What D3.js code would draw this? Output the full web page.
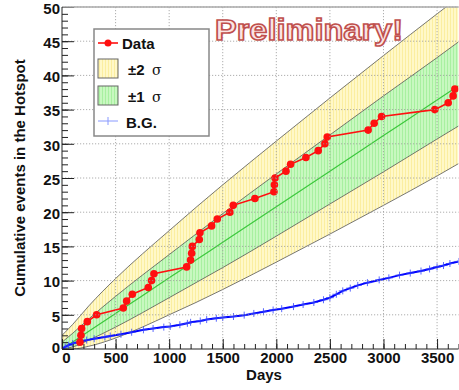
<!DOCTYPE html>
<html><head><meta charset="utf-8">
<script src="https://cdn.jsdelivr.net/npm/d3@7/dist/d3.min.js"></script>
<style>body{margin:0;background:#fff;overflow:hidden}</style></head>
<body><svg id="c" width="459" height="390"></svg>
<script>
// ---- data ----
const bandDays = [0, 100, 250, 500, 750, 1000, 1250, 1500, 2000, 2500, 3000, 3500, 3700];
const meanVals = [0, 1.04, 2.6, 5.2, 7.8, 10.4, 13.0, 15.6, 20.8, 26.0, 31.2, 36.4, 38.5];
const up2Vals  = [2.0, 3.6, 6.3, 10.3, 13.9, 17.3, 20.7, 24.0, 30.4, 36.7, 42.9, 49.0, 51.4];
const up1Vals  = [1.0, 2.3, 4.4, 7.7, 10.8, 13.8, 16.8, 19.8, 25.6, 31.3, 37.0, 42.6, 44.9];
const lo1Vals  = [0, 0.3, 1.3, 3.2, 5.3, 7.5, 9.7, 11.9, 16.5, 21.2, 25.9, 30.7, 32.6];
const lo2Vals  = [0, 0, 0.4, 1.6, 3.2, 5.0, 6.8, 8.7, 12.7, 16.8, 21.0, 25.3, 27.1];

const dataDays = [168, 177, 183, 236, 323, 572, 603, 656, 805, 836, 858, 1163, 1200, 1210, 1216, 1281, 1287, 1396, 1449, 1567, 1598, 1800, 1978, 1982, 1988, 2090, 2133, 2276, 2391, 2453, 2475, 2857, 2913, 2982, 3479, 3604, 3650, 3666];
const dataCounts = [1, 2, 3, 4, 5, 6, 7, 8, 9, 10, 11, 12, 13, 14, 15, 16, 17, 18, 19, 20, 21, 22, 23, 24, 25, 26, 27, 28, 29, 30, 31, 32, 33, 34, 35, 36, 37, 38];

const bgDays = [0, 30, 60, 100, 150, 230, 300, 400, 450, 550, 650, 760, 850, 950, 1010, 1100, 1170, 1200, 1290, 1350, 1440, 1500, 1600, 1700, 1790, 1880, 1970, 2050, 2160, 2250, 2350, 2440, 2500, 2560, 2620, 2690, 2760, 2850, 2960, 3050, 3150, 3250, 3350, 3430, 3500, 3560, 3620, 3700];
const bgVals = [0, 0.3, 0.55, 0.8, 1.0, 1.3, 1.5, 1.75, 1.9, 2.15, 2.45, 2.8, 3.0, 3.2, 3.3, 3.55, 3.75, 3.9, 4.1, 4.3, 4.5, 4.6, 4.75, 4.95, 5.2, 5.45, 5.7, 5.9, 6.2, 6.5, 6.8, 7.2, 7.5, 8.0, 8.5, 8.9, 9.3, 9.7, 10.1, 10.4, 10.8, 11.1, 11.4, 11.7, 12.0, 12.2, 12.5, 12.8];

const xTickVals = [0, 500, 1000, 1500, 2000, 2500, 3000, 3500];
const yTickVals = [0, 5, 10, 15, 20, 25, 30, 35, 40, 45, 50];

// ---- layout ----
const L = 62, R = 458.5, T = 7, B = 349;
const svg = d3.select('#c');
const x = d3.scaleLinear().domain([0, 3700]).range([L, R]);
const y = d3.scaleLinear().domain([0, 50]).range([B, T]);
const FONT = '"Liberation Sans", Arial, sans-serif';
const FS = 15;

const defs = svg.append('defs');
function stripes(id, base, line) {
  const p = defs.append('pattern').attr('id', id).attr('patternUnits', 'userSpaceOnUse')
    .attr('width', 3).attr('height', 3);
  p.append('rect').attr('width', 3).attr('height', 3).attr('fill', base);
  p.append('rect').attr('width', 1).attr('height', 3).attr('fill', line);
}
stripes('yel', '#fff8c8', '#fbeea0');
stripes('grn', '#c8f8c0', '#a8f0a0');
defs.append('clipPath').attr('id', 'clip').append('rect')
  .attr('x', L).attr('y', T).attr('width', R - L).attr('height', B - T);

const plot = svg.append('g').attr('clip-path', 'url(#clip)');
const band = bandDays.map((d, i) => ({d, m: meanVals[i], u2: up2Vals[i], u1: up1Vals[i], l1: lo1Vals[i], l2: lo2Vals[i]}));
const curve = d3.curveMonotoneX;
plot.append('path').datum(band).attr('fill', 'url(#yel)')
  .attr('d', d3.area().curve(curve).x(p => x(p.d)).y0(p => y(p.l2)).y1(p => y(p.u2)));
plot.append('path').datum(band).attr('fill', 'url(#grn)')
  .attr('d', d3.area().curve(curve).x(p => x(p.d)).y0(p => y(p.l1)).y1(p => y(p.u1)));
['u2', 'u1', 'l1', 'l2'].forEach(k => {
  plot.append('path').datum(band).attr('fill', 'none').attr('stroke', '#555').attr('stroke-width', 0.8)
    .attr('d', d3.line().curve(curve).x(p => x(p.d)).y(p => y(p[k])));
});
plot.append('path').datum(band).attr('fill', 'none').attr('stroke', '#3cc83c').attr('stroke-width', 1.2)
  .attr('d', d3.line().curve(curve).x(p => x(p.d)).y(p => y(p.m)));

// grid
const grid = svg.append('g');
xTickVals.slice(1).forEach(v => grid.append('line').attr('x1', x(v)).attr('x2', x(v)).attr('y1', T).attr('y2', B)
  .attr('stroke', '#999').attr('stroke-width', 0.8).attr('stroke-dasharray', '1.2,1.8'));
yTickVals.slice(1).forEach(v => grid.append('line').attr('x1', L).attr('x2', R).attr('y1', y(v)).attr('y2', y(v))
  .attr('stroke', '#999').attr('stroke-width', 0.8).attr('stroke-dasharray', '1.2,1.8'));

// background
const bg = bgDays.map((d, i) => ({d, v: bgVals[i]}));
plot.append('path').datum(bg).attr('fill', 'none').attr('stroke', '#0000ff').attr('stroke-width', 2)
  .attr('d', d3.line().x(p => x(p.d)).y(p => y(p.v)));
const bgm = plot.append('g').attr('stroke', '#3344ff').attr('stroke-width', 1).attr('opacity', 0.8);
bg.slice(1).forEach(p => {
  bgm.append('line').attr('x1', x(p.d) - 4).attr('x2', x(p.d) + 4).attr('y1', y(p.v)).attr('y2', y(p.v));
  bgm.append('line').attr('x1', x(p.d)).attr('x2', x(p.d)).attr('y1', y(p.v) - 3.5).attr('y2', y(p.v) + 3.5);
});

// data
const dat = dataDays.map((d, i) => ({d, v: dataCounts[i]}));
plot.append('path').datum(dat).attr('fill', 'none').attr('stroke', '#ff1010').attr('stroke-width', 1.6)
  .attr('d', d3.line().x(p => x(p.d)).y(p => y(p.v)));
plot.append('g').selectAll('circle').data(dat).join('circle')
  .attr('cx', p => x(p.d)).attr('cy', p => y(p.v)).attr('r', 3.8).attr('fill', '#ff1010');

// axes
function styleAxis(g) {
  g.select('.domain').remove();
  g.selectAll('line').attr('stroke', '#222');
  g.selectAll('text').attr('font-family', FONT).attr('font-weight', 'bold').attr('font-size', FS).attr('fill', '#111');
}
svg.append('g').attr('transform', `translate(0,${B})`)
  .call(d3.axisBottom(x).tickValues(d3.range(0, 3701, 100)).tickSize(-5).tickFormat(''))
  .call(styleAxis);
const xa = svg.append('g').attr('transform', `translate(0,${B})`)
  .call(d3.axisBottom(x).tickValues(xTickVals).tickSize(-10).tickPadding(3).tickFormat(d3.format('d')))
  .call(styleAxis);
xa.selectAll('.tick text').filter(d => d === 0).attr('dx', 4);
svg.append('g').attr('transform', `translate(${L},0)`)
  .call(d3.axisLeft(y).tickValues(d3.range(0, 51, 1)).tickSize(-6).tickFormat(''))
  .call(styleAxis);
const ya = svg.append('g').attr('transform', `translate(${L},0)`)
  .call(d3.axisLeft(y).tickValues(yTickVals).tickSize(-12).tickPadding(2).tickFormat(d3.format('d')))
  .call(styleAxis);
ya.selectAll('.tick text').attr('dy', '0.42em');
ya.selectAll('.tick text').filter(d => d === 0).attr('dy', '0.2em');

// frame
svg.append('line').attr('x1', L).attr('x2', R).attr('y1', T).attr('y2', T).attr('stroke', '#aaa').attr('stroke-width', 1.5);
svg.append('line').attr('x1', L).attr('x2', L).attr('y1', T).attr('y2', B).attr('stroke', '#222').attr('stroke-width', 1);
svg.append('line').attr('x1', L).attr('x2', R).attr('y1', B).attr('y2', B).attr('stroke', '#222').attr('stroke-width', 1);

// axis titles
svg.append('text').attr('x', 264).attr('y', 380).attr('text-anchor', 'middle')
  .attr('font-family', FONT).attr('font-weight', 'bold').attr('font-size', FS).attr('fill', '#111').text('Days');
svg.append('text').attr('transform', 'translate(25,178) rotate(-90)').attr('text-anchor', 'middle')
  .attr('font-family', FONT).attr('font-weight', 'bold').attr('font-size', FS).attr('fill', '#111')
  .text('Cumulative events in the Hotspot');

// legend
const lg = svg.append('g');
lg.append('rect').attr('x', 94).attr('y', 29).attr('width', 115).attr('height', 107)
  .attr('fill', '#fff').attr('stroke', '#888').attr('stroke-width', 1.5);
lg.append('line').attr('x1', 98).attr('x2', 118).attr('y1', 43).attr('y2', 43).attr('stroke', '#ff1010').attr('stroke-width', 1.6);
lg.append('circle').attr('cx', 108).attr('cy', 43).attr('r', 3.5).attr('fill', '#ff1010');
lg.append('rect').attr('x', 98).attr('y', 59).attr('width', 20).attr('height', 19).attr('fill', 'url(#yel)').attr('stroke', '#666');
lg.append('rect').attr('x', 98).attr('y', 86).attr('width', 20).attr('height', 19).attr('fill', 'url(#grn)').attr('stroke', '#666');
lg.append('line').attr('x1', 98).attr('x2', 118).attr('y1', 121).attr('y2', 121).attr('stroke', '#8899ff').attr('stroke-width', 1);
lg.append('line').attr('x1', 108).attr('x2', 108).attr('y1', 117).attr('y2', 125).attr('stroke', '#8899ff').attr('stroke-width', 1);
const lt = (xx, yy, t, f, w, s) => lg.append('text').attr('x', xx).attr('y', yy).attr('font-family', f)
  .attr('font-weight', w).attr('font-size', s).attr('fill', '#111').text(t);
lt(122, 49, 'Data', FONT, 'bold', FS);
lt(128, 75, '\u00b12', FONT, 'bold', FS);
lt(152, 75, '\u03c3', '"DejaVu Serif", serif', 'normal', 14);
lt(128, 102, '\u00b11', FONT, 'bold', FS);
lt(152, 102, '\u03c3', '"DejaVu Serif", serif', 'normal', 14);
lt(126, 128, 'B.G.', FONT, 'bold', FS);

// watermark
svg.append('text').attr('x', 215).attr('y', 40).attr('font-family', FONT).attr('font-weight', 'bold')
  .attr('font-size', 30).attr('textLength', 188).attr('lengthAdjust', 'spacingAndGlyphs')
  .attr('fill', '#fbe4e4').attr('stroke', '#c0504d').attr('stroke-width', 1.6).text('Preliminary!');
</script></body></html>
